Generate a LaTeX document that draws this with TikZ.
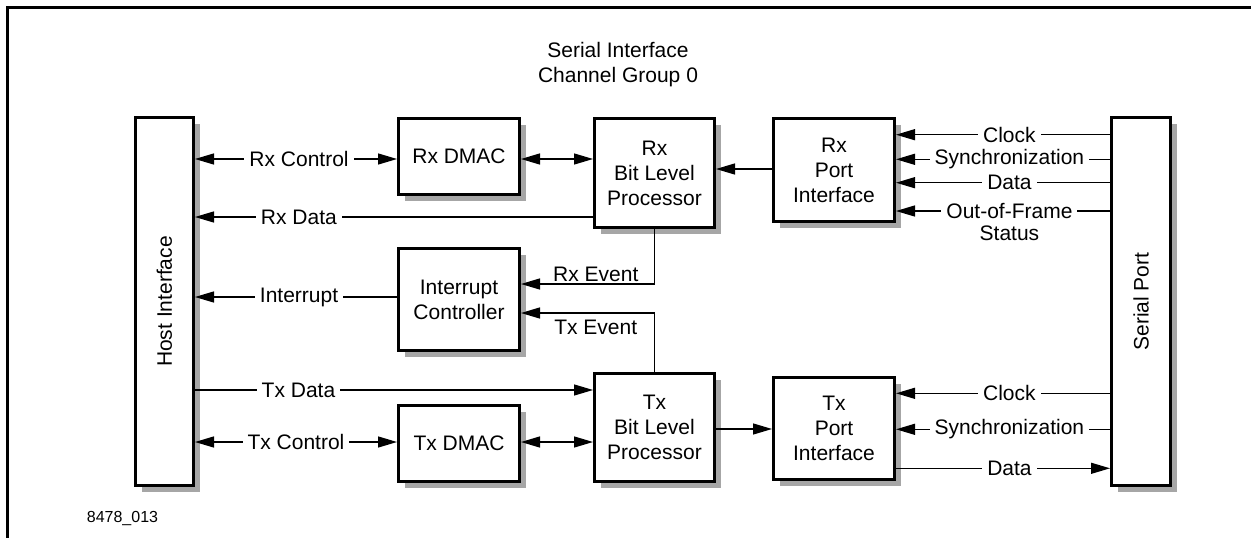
\documentclass[tikz,border=0pt]{standalone}
\usepackage{fontspec}
\usepackage{graphicx}
\setmainfont{Liberation Sans}
\usetikzlibrary{arrows.meta,shadows,calc}
\begin{document}
\begin{tikzpicture}[x=1pt,y=-1pt,
  font=\fontsize{21}{25}\selectfont,
  >={Triangle[length=19pt,width=11pt]},
  box/.style={draw, line width=3pt, fill=white, align=center, anchor=north west,
    inner sep=0pt,
    drop shadow={shadow xshift=6pt, shadow yshift=-6pt, fill=black!35, opacity=1}},
  conn/.style={line width=1.3pt},
  lbl/.style={fill=white, inner xsep=5pt, inner ysep=1pt},
  evlbl/.style={inner sep=2pt}
]
\useasboundingbox (0,0) rectangle (1251,538);
% frame
\draw[line width=3pt] (7,538) -- (7,7) -- (1251,7);

% title
\node[align=center] (title) at (618,64.5) {Serial Interface\\Channel Group 0};
\node[font=\fontsize{16}{19}\selectfont] (fig) at (122.5,518) {8478\_013};

% boxes
\node[box, minimum width=58pt, minimum height=368pt] (host) at (134,116) {\rotatebox{90}{Host Interface}};
\node[box, minimum width=59pt, minimum height=368pt] (sport) at (1110,116) {\rotatebox{90}{Serial Port}};
\node[box, minimum width=121pt, minimum height=76pt] (rxdmac) at (397,117) {Rx DMAC};
\node[box, minimum width=120pt, minimum height=109pt] (rxblp) at (593,117) {Rx\\Bit Level\\Processor};
\node[box, minimum width=121pt, minimum height=103pt] (rxport) at (772,117) {Rx\\Port\\Interface};
\node[box, minimum width=121pt, minimum height=102pt] (intc) at (397,247) {Interrupt\\Controller};
\node[box, minimum width=120pt, minimum height=108pt] (txblp) at (593,372) {Tx\\Bit Level\\Processor};
\node[box, minimum width=121pt, minimum height=76pt] (txdmac) at (397,404) {Tx DMAC};
\node[box, minimum width=121pt, minimum height=102pt] (txport) at (772,376) {Tx\\Port\\Interface};

% y levels
\coordinate (yRxCtl) at (0,159);
\coordinate (yRxData) at (0,217);
\coordinate (yRxEv) at (0,284);
\coordinate (yInt) at (0,297);
\coordinate (yTxEv) at (0,313);
\coordinate (yTxData) at (0,390);
\coordinate (yTxCtl) at (0,442);
\coordinate (yRxPort) at (0,169);
\coordinate (yTxBlp) at (0,429);
\coordinate (yRClk) at (0,134.7);
\coordinate (yRSync) at (0,159.3);
\coordinate (yRData) at (0,182.7);
\coordinate (yROof) at (0,211);
\coordinate (yTClk) at (0,393.3);
\coordinate (yTSync) at (0,429.3);
\coordinate (yTData) at (0,468.3);

% left side connectors
\draw[conn,<->] (host.east |- yRxCtl) -- node[lbl,pos=0.515]{Rx Control} (rxdmac.west |- yRxCtl);
\draw[conn,->] (rxblp.west |- yRxData) -- node[lbl,pos=0.739]{Rx Data} (host.east |- yRxData);
\draw[conn,->] (intc.west |- yInt) -- node[lbl,pos=0.485]{Interrupt} (host.east |- yInt);
\draw[conn,->] (host.east |- yTxData) -- node[lbl,pos=0.26]{Tx Data} (txblp.west |- yTxData);
\draw[conn,<->] (host.east |- yTxCtl) -- node[lbl,pos=0.5]{Tx Control} (txdmac.west |- yTxCtl);

% middle connectors
\draw[conn,<->] (rxdmac.east |- yRxCtl) -- (rxblp.west |- yRxCtl);
\draw[conn,<->] (txdmac.east |- yTxCtl) -- (txblp.west |- yTxCtl);
\draw[conn,->] (rxport.west |- yRxPort) -- (rxblp.east |- yRxPort);
\draw[conn,->] (txblp.east |- yTxBlp) -- (txport.west |- yTxBlp);
\draw[conn,->] (rxblp.south) |- node[evlbl,above,pos=0.72]{Rx Event} (intc.east |- yRxEv);
\draw[conn,->] (txblp.north) |- node[evlbl,below,pos=0.72,yshift=-4pt]{Tx Event} (intc.east |- yTxEv);

% right side connectors
\draw[conn,->] (sport.west |- yRClk) -- node[lbl,pos=0.47]{Clock} (rxport.east |- yRClk);
\draw[conn,->] (sport.west |- yRSync) -- node[lbl,pos=0.47]{Synchronization} (rxport.east |- yRSync);
\draw[conn,->] (sport.west |- yRData) -- node[lbl,pos=0.47]{Data} (rxport.east |- yRData);
\draw[conn,->] (sport.west |- yROof) -- node[lbl,pos=0.47,
   label={[inner sep=0pt,label distance=5pt]below:Status}]{Out-of-Frame} (rxport.east |- yROof);
\draw[conn,->] (sport.west |- yTClk) -- node[lbl,pos=0.47]{Clock} (txport.east |- yTClk);
\draw[conn,->] (sport.west |- yTSync) -- node[lbl,pos=0.47]{Synchronization} (txport.east |- yTSync);
\draw[conn,->] (txport.east |- yTData) -- node[lbl,pos=0.53]{Data} (sport.west |- yTData);
\end{tikzpicture}
\end{document}
